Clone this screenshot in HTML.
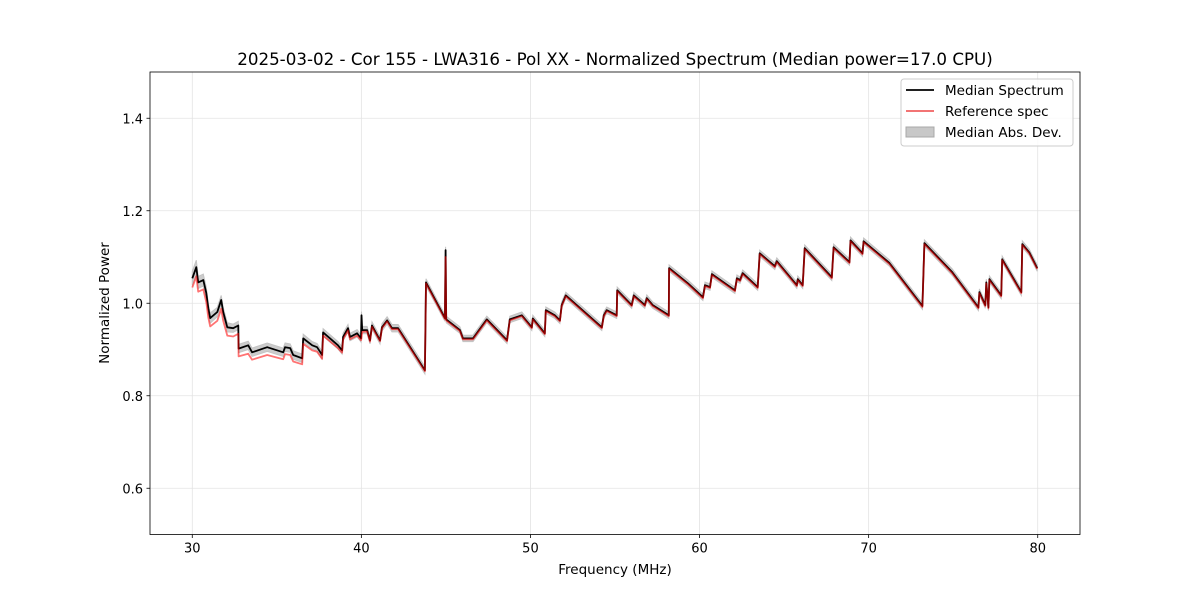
<!DOCTYPE html>
<html><head><meta charset="utf-8"><style>
body{margin:0;background:#fff;font-family:"Liberation Sans","DejaVu Sans",sans-serif}
svg text{font-family:"DejaVu Sans","Liberation Sans",sans-serif;fill:#000}
</style></head><body>
<svg id="chart" width="1200" height="600" viewBox="0 0 1200 600" xmlns="http://www.w3.org/2000/svg">
<rect width="1200" height="600" fill="#fff"/>
<text x="615" y="65" font-size="16.7" text-anchor="middle">2025-03-02 - Cor 155 - LWA316 - Pol XX - Normalized Spectrum (Median power=17.0 CPU)</text>
<g id="grid"></g><g id="band"></g><g id="lines"></g><g id="axes"></g>
<text x="615" y="574" font-size="13.5" text-anchor="middle">Frequency (MHz)</text>
<text transform="translate(109,303) rotate(-90)" font-size="13.5" text-anchor="middle">Normalized Power</text>
<g>
<rect x="901" y="79" width="172" height="67" rx="3" fill="#fff" fill-opacity="0.8" stroke="#ccc"/>
<line x1="906" y1="90" x2="934" y2="90" stroke="#000" stroke-width="1.8"/>
<text x="945" y="95" font-size="13.5">Median Spectrum</text>
<line x1="906" y1="111" x2="934" y2="111" stroke="#f06060" stroke-width="1.8"/>
<text x="945" y="116" font-size="13.5">Reference spec</text>
<rect x="906" y="127" width="28" height="10" fill="#c8c8c8" stroke="#a8a8a8"/>
<text x="945" y="137" font-size="13.5">Median Abs. Dev.</text>
</g>
</svg>
<script>
const freqs=[30.00,30.24,30.35,30.65,30.83,30.95,31.06,31.48,31.71,31.83,32.07,32.42,32.72,32.74,33.31,33.54,34.43,35.38,35.49,35.79,35.97,36.50,36.56,37.09,37.38,37.68,37.74,38.62,38.86,38.92,39.21,39.33,39.75,39.98,40.01,40.05,40.34,40.51,40.63,41.10,41.22,41.52,41.81,42.17,43.76,43.82,44.94,44.98,45.02,45.83,46.01,46.60,47.42,48.61,48.78,49.49,50.08,50.14,50.85,50.91,51.44,51.74,51.85,52.09,54.22,54.34,54.51,55.10,55.13,55.99,56.11,56.76,56.88,57.23,58.18,58.20,59.32,60.20,60.32,60.62,60.73,62.09,62.21,62.39,62.55,63.44,63.56,64.45,64.57,65.75,65.81,66.10,66.22,67.82,67.93,68.87,68.93,69.64,69.70,71.23,73.18,73.30,74.95,76.49,76.55,76.90,76.96,77.08,77.14,77.84,77.90,79.03,79.09,79.50,79.97];
const medianValues=[1.054,1.078,1.045,1.050,1.022,0.989,0.968,0.981,1.007,0.981,0.948,0.946,0.952,0.902,0.909,0.894,0.905,0.894,0.905,0.903,0.888,0.881,0.924,0.909,0.905,0.888,0.937,0.909,0.898,0.927,0.946,0.927,0.935,0.924,0.974,0.942,0.942,0.920,0.952,0.920,0.948,0.963,0.946,0.946,0.855,1.045,0.968,1.115,0.965,0.942,0.924,0.924,0.965,0.920,0.965,0.974,0.948,0.967,0.935,0.985,0.974,0.963,0.996,1.017,0.948,0.974,0.985,0.974,1.028,0.996,1.017,0.996,1.011,0.996,0.974,1.076,1.043,1.013,1.039,1.035,1.063,1.028,1.054,1.050,1.065,1.035,1.108,1.080,1.091,1.039,1.052,1.039,1.119,1.056,1.121,1.089,1.136,1.108,1.134,1.087,0.994,1.130,1.067,0.991,1.024,0.996,1.045,0.991,1.052,1.017,1.095,1.024,1.128,1.110,1.076];
const referenceValues=[1.034,1.058,1.025,1.030,1.002,0.969,0.950,0.962,0.988,0.962,0.930,0.928,0.934,0.885,0.891,0.878,0.888,0.879,0.890,0.888,0.874,0.868,0.912,0.898,0.895,0.880,0.930,0.903,0.893,0.922,0.941,0.922,0.930,0.920,0.924,0.938,0.939,0.917,0.949,0.918,0.946,0.961,0.944,0.944,0.853,1.043,0.966,1.100,0.963,0.940,0.922,0.922,0.963,0.918,0.963,0.972,0.946,0.965,0.933,0.983,0.972,0.961,0.994,1.015,0.946,0.972,0.983,0.972,1.026,0.994,1.015,0.994,1.009,0.994,0.972,1.074,1.041,1.011,1.037,1.033,1.061,1.026,1.052,1.048,1.063,1.033,1.106,1.078,1.089,1.037,1.050,1.037,1.117,1.054,1.119,1.087,1.134,1.106,1.132,1.085,0.992,1.128,1.065,0.989,1.022,0.994,1.043,0.989,1.050,1.015,1.093,1.022,1.126,1.108,1.074];
const madValues=[0.015,0.015,0.013,0.013,0.012,0.011,0.011,0.010,0.010,0.010,0.010,0.009,0.009,0.009,0.009,0.009,0.009,0.009,0.009,0.009,0.009,0.009,0.009,0.008,0.008,0.008,0.008,0.008,0.008,0.008,0.008,0.008,0.008,0.008,0.008,0.008,0.008,0.008,0.008,0.008,0.008,0.008,0.008,0.008,0.008,0.008,0.007,0.007,0.007,0.007,0.007,0.007,0.007,0.007,0.007,0.007,0.007,0.007,0.007,0.007,0.007,0.007,0.007,0.007,0.007,0.007,0.007,0.007,0.007,0.007,0.007,0.007,0.007,0.007,0.007,0.007,0.007,0.007,0.007,0.007,0.007,0.007,0.007,0.007,0.007,0.007,0.007,0.007,0.007,0.007,0.007,0.007,0.007,0.007,0.007,0.007,0.007,0.007,0.007,0.007,0.007,0.007,0.007,0.007,0.007,0.007,0.007,0.007,0.007,0.007,0.007,0.007,0.007,0.007,0.007];
const xTicks=[30,40,50,60,70,80];
const yTicks=[0.6,0.8,1.0,1.2,1.4];
const yTickLabels=["0.6","0.8","1.0","1.2","1.4"];

const L=150,R=1080,T=72,B=534.5;
const X0=27.5,X1=82.5,Y0=0.5,Y1=1.5;
function xs(f){return L+(f-X0)/(X1-X0)*(R-L);}
function ys(v){return B-(v-Y0)/(Y1-Y0)*(B-T);}
const NS="http://www.w3.org/2000/svg";
function mk(tag,attrs,parent){const e=document.createElementNS(NS,tag);for(const k in attrs)e.setAttribute(k,attrs[k]);parent.appendChild(e);return e;}
const grid=document.getElementById('grid'),axes=document.getElementById('axes'),band=document.getElementById('band'),lines=document.getElementById('lines');
xTicks.forEach(t=>{
  const g=mk('line',{x1:xs(t),x2:xs(t),y1:T,y2:B,stroke:'#e3e3e3','stroke-width':0.8},grid);
  
  
  mk('line',{x1:xs(t),x2:xs(t),y1:B,y2:B+3.5,stroke:'#000','stroke-width':0.8},axes);
  const tx=mk('text',{x:xs(t),y:B+18,'font-size':'13','text-anchor':'middle'},axes);
  tx.textContent=String(t);
  
  
});
yTicks.forEach((t,i)=>{
  const g=mk('line',{x1:L,x2:R,y1:ys(t),y2:ys(t),stroke:'#e3e3e3','stroke-width':0.8},grid);
  
  
  mk('line',{x1:L-3.5,x2:L,y1:ys(t),y2:ys(t),stroke:'#000','stroke-width':0.8},axes);
  const tx=mk('text',{x:L-7,y:ys(t)+5,'font-size':'13','text-anchor':'end'},axes);
  tx.textContent=yTickLabels[i];
  
  
});
const fr=mk('rect',{x:L,y:T,width:R-L,height:B-T,fill:'none',stroke:'#000','stroke-width':0.8},axes);


let up=[],dn=[];
freqs.forEach((f,i)=>{up.push(xs(f).toFixed(1)+','+ys(medianValues[i]+madValues[i]).toFixed(1));dn.unshift(xs(f).toFixed(1)+','+ys(medianValues[i]-madValues[i]).toFixed(1));});
const poly=mk('polygon',{points:up.concat(dn).join(' '),fill:'#cccccc',stroke:'#c4c4c4','stroke-width':1},band);


function pts(vals){return freqs.map((f,i)=>xs(f).toFixed(1)+','+ys(vals[i]).toFixed(1)).join(' ');}
const med=mk('polyline',{points:pts(medianValues),fill:'none',stroke:'#000','stroke-width':1.8,'stroke-linejoin':'round'},lines);


const ref=mk('polyline',{points:pts(referenceValues),fill:'none',stroke:'#ff0000','stroke-opacity':0.55,'stroke-width':1.8,'stroke-linejoin':'round'},lines);


</script>
</body></html>
